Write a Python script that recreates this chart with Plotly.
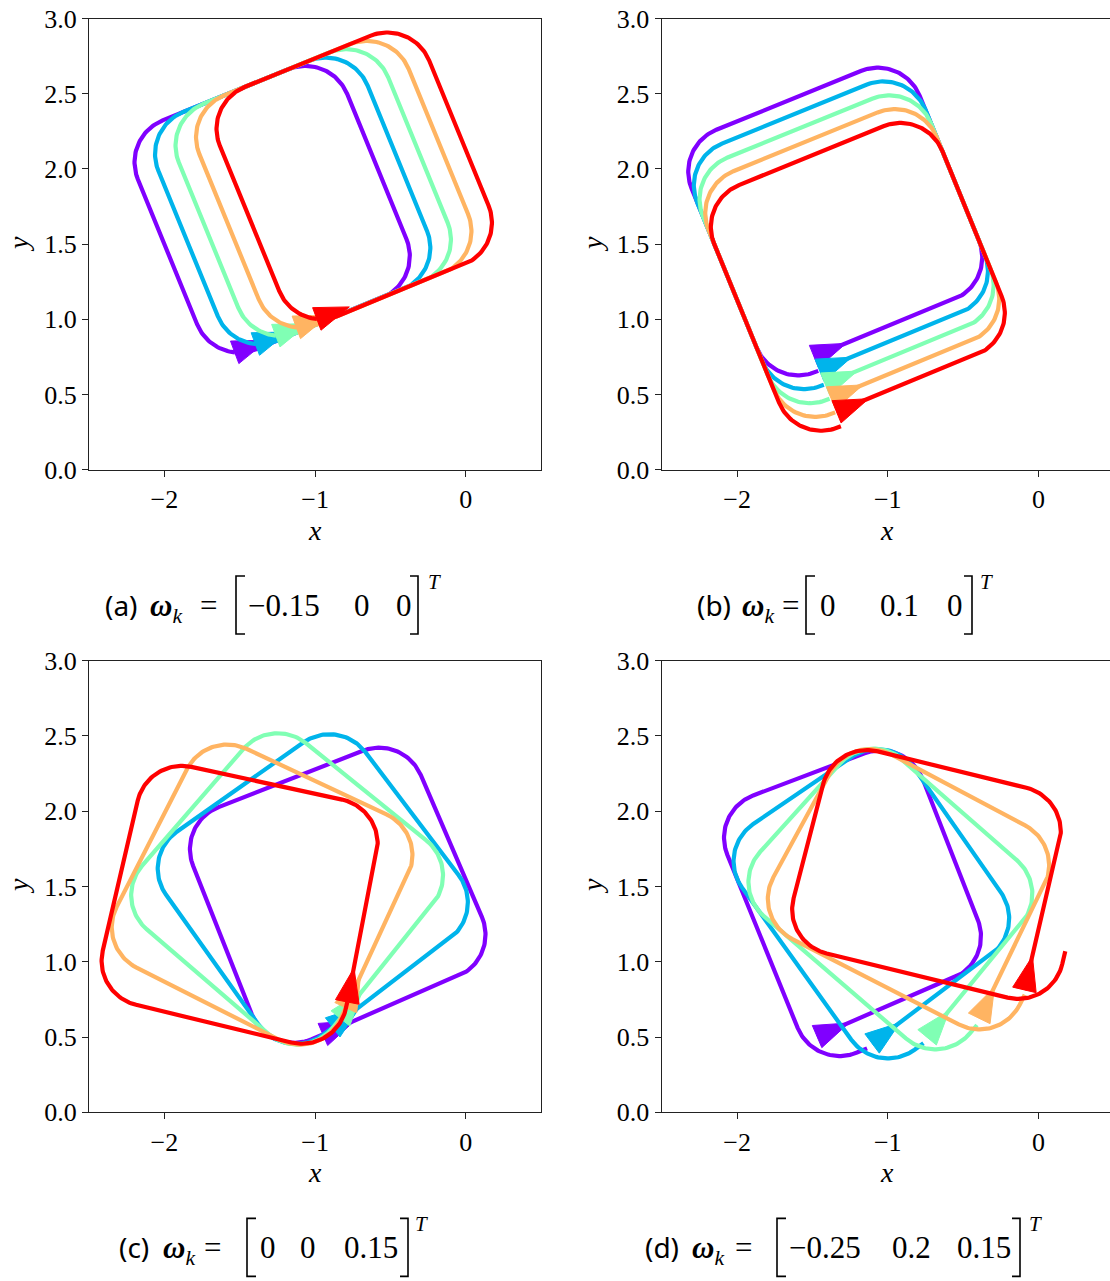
import numpy as np
import plotly.graph_objects as go

# colour per trajectory (rainbow colormap sampled at 0, .25, .5, .75, 1)
COLORS = ["#8000ff", "#00b4eb", "#80ffb4", "#ffb462", "#ff0000"]
CORNER_RADIUS = 0.3

# ---- (a) omega_k = [-0.15, 0, 0]^T : closed loops, corners BL, BR, TR, TL
a_x = [
    [-1.669, -0.280, -0.900, -2.289],
    [-1.532, -0.144, -0.764, -2.153],
    [-1.396, -0.007, -0.628, -2.017],
    [-1.260, 0.129, -0.492, -1.881],
    [-1.124, 0.265, -0.356, -1.745],
]
a_y = [
    [0.688, 1.254, 2.776, 2.209],
    [0.743, 1.310, 2.831, 2.265],
    [0.799, 1.365, 2.887, 2.320],
    [0.854, 1.421, 2.942, 2.376],
    [0.910, 1.477, 2.998, 2.431],
]
a_start_turn = 0.7  # loops start part-way through the first corner

# ---- (b) omega_k = [0, 0.1, 0]^T : start, corners, end
b_x = [
    [-1.490, -0.282, -0.901, -2.415, -1.758, -1.461],
    [-1.453, -0.244, -0.864, -2.378, -1.720, -1.424],
    [-1.415, -0.206, -0.826, -2.340, -1.683, -1.386],
    [-1.377, -0.169, -0.789, -2.302, -1.645, -1.349],
    [-1.340, -0.132, -0.751, -2.265, -1.608, -1.311],
]
b_y = [
    [0.753, 1.246, 2.764, 2.147, 0.536, 0.657],
    [0.661, 1.154, 2.673, 2.055, 0.444, 0.565],
    [0.569, 1.062, 2.580, 1.963, 0.351, 0.472],
    [0.477, 0.970, 2.489, 1.871, 0.260, 0.381],
    [0.385, 0.878, 2.397, 1.779, 0.168, 0.289],
]

# ---- (c) omega_k = [0, 0, 0.15]^T : start, corners, back to start
c_x = [
    [-0.948, 0.225, -0.413, -1.920, -1.306, -0.948],
    [-0.883, 0.134, -0.841, -2.163, -1.194, -0.883],
    [-0.832, -0.029, -1.285, -2.344, -1.077, -0.832],
    [-0.796, -0.255, -1.718, -2.453, -0.961, -0.796],
    [-0.786, -0.533, -2.110, -2.476, -0.854, -0.786],
]
c_y = [
    [0.517, 1.023, 2.507, 1.918, 0.363, 0.517],
    [0.564, 1.336, 2.624, 1.690, 0.328, 0.564],
    [0.624, 1.618, 2.634, 1.411, 0.321, 0.624],
    [0.695, 1.852, 2.538, 1.097, 0.342, 0.695],
    [0.733, 2.015, 2.357, 0.784, 0.390, 0.733],
]

# ---- (d) omega_k = [-0.25, 0.2, 0.15]^T : start, corners, end
d_x = [
    [-1.469, -0.296, -0.876, -2.180, -1.484, -1.137],
    [-1.104, -0.082, -0.994, -2.146, -1.066, -0.763],
    [-0.739, 0.076, -1.118, -2.053, -0.650, -0.408],
    [-0.393, 0.168, -1.240, -1.906, -0.259, -0.091],
    [-0.093, 0.209, -1.354, -1.701, 0.089, 0.178],
]
d_y = [
    [0.503, 1.006, 2.490, 1.996, 0.280, 0.425],
    [0.457, 1.221, 2.528, 1.742, 0.237, 0.459],
    [0.498, 1.481, 2.537, 1.502, 0.293, 0.580],
    [0.624, 1.770, 2.517, 1.291, 0.445, 0.781],
    [0.813, 2.085, 2.468, 1.127, 0.690, 1.070],
]

x_ticks = [-2, -1, 0]
x_tick_text = ["\u22122", "\u22121", "0"]
y_ticks = [0.0, 0.5, 1.0, 1.5, 2.0, 2.5, 3.0]
y_tick_text = ["0.0", "0.5", "1.0", "1.5", "2.0", "2.5", "3.0"]

captions = [
    ("(a)", ["\u22120.15", "0", "0"]),
    ("(b)", ["0", "0.1", "0"]),
    ("(c)", ["0", "0", "0.15"]),
    ("(d)", ["\u22120.25", "0.2", "0.15"]),
]


# ---------------------------------------------------------------- geometry
def corner_arc(p, v, n, r, lim1, lim2, npts=40):
    """Circular fillet replacing the sharp corner v between p->v and v->n."""
    d1 = v - p
    l1 = np.hypot(*d1)
    d1 = d1 / l1
    d2 = n - v
    l2 = np.hypot(*d2)
    d2 = d2 / l2
    cross = d1[0] * d2[1] - d1[1] * d2[0]
    phi = np.arccos(np.clip(d1 @ d2, -1, 1))
    if phi < 1e-6:
        return np.array([v])
    t = min(r * np.tan(phi / 2), lim1 * l1, lim2 * l2)
    rr = t / np.tan(phi / 2)
    s = np.sign(cross)
    t1 = v - t * d1
    c = t1 + rr * s * np.array([-d1[1], d1[0]])
    a0 = np.arctan2(t1[1] - c[1], t1[0] - c[0])
    ang = a0 + s * phi * np.linspace(0, 1, npts)
    return np.column_stack([c[0] + rr * np.cos(ang), c[1] + rr * np.sin(ang)])


def open_path(xs, ys, r):
    P = np.column_stack([xs, ys]).astype(float)
    m = len(P)
    out = [P[:1]]
    for i in range(1, m - 1):
        lim1 = 1.0 if i - 1 == 0 else 0.5
        lim2 = 1.0 if i + 1 == m - 1 else 0.5
        out.append(corner_arc(P[i - 1], P[i], P[i + 1], r, lim1, lim2))
    out.append(P[-1:])
    Q = np.vstack(out)
    return Q[:, 0], Q[:, 1]


def closed_path(xs, ys, r, frac):
    P = np.column_stack([xs, ys]).astype(float)
    m = len(P)
    arcs = [corner_arc(P[i - 1], P[i], P[(i + 1) % m], r, 0.5, 0.5) for i in range(m)]
    k = int(round(frac * (len(arcs[0]) - 1)))
    Q = np.vstack([arcs[0][k:]] + arcs[1:] + [arcs[0][: k + 1]])
    return Q[:, 0], Q[:, 1]


def arrow_head(px, py, length=0.23, half_w=0.08, look=0.15):
    p0 = np.array([px[0], py[0]])
    pts = np.column_stack([px, py])
    dist = np.cumsum(np.r_[0, np.hypot(*np.diff(pts, axis=0).T)])
    j = int(np.searchsorted(dist, look))
    j = min(max(j, 1), len(pts) - 1)
    d = pts[j] - p0
    d = d / np.hypot(*d)
    nrm = np.array([-d[1], d[0]])
    tip = p0 + length * d
    b1 = p0 + half_w * nrm
    b2 = p0 - half_w * nrm
    tri = np.array([b1, tip, b2, b1])
    return tri[:, 0], tri[:, 1]


# ---------------------------------------------------------------- figure
W, H = 1110, 1281
fig = go.Figure()

paths = []
for i in range(5):
    paths.append(("x", "y", *closed_path(a_x[i], a_y[i], CORNER_RADIUS, a_start_turn)))
for i in range(5):
    paths.append(("x2", "y2", *open_path(b_x[i], b_y[i], CORNER_RADIUS)))
for i in range(5):
    paths.append(("x3", "y3", *open_path(c_x[i], c_y[i], CORNER_RADIUS)))
for i in range(5):
    paths.append(("x4", "y4", *open_path(d_x[i], d_y[i], CORNER_RADIUS)))

for n, (xa, ya, px, py) in enumerate(paths):
    col = COLORS[n % 5]
    fig.add_trace(go.Scatter(x=px, y=py, mode="lines", xaxis=xa, yaxis=ya,
                             line=dict(color=col, width=4.2), hoverinfo="skip"))
    tx, ty = arrow_head(px, py)
    fig.add_trace(go.Scatter(x=tx, y=ty, mode="lines", fill="toself", fillcolor=col,
                             xaxis=xa, yaxis=ya, line=dict(color=col, width=1),
                             hoverinfo="skip"))

# axes placement (pixel boxes converted to paper fractions)
left_x = [89 / W, 541.1 / W]
right_x = [661.7 / W, 1.0]
top_y = [1 - 469.7 / H, 1 - 18.5 / H]
bot_y = [1 - 1112.3 / H, 1 - 660.7 / H]
right_xmax = -2.5 + (W - 661.7) / 150.7

tick_font = dict(family="Liberation Serif", size=26, color="black")
axis_common = dict(showgrid=False, zeroline=False, showline=True, linecolor="#222",
                   linewidth=1.3, ticks="outside", ticklen=6, tickwidth=1.3,
                   tickcolor="#222", tickfont=tick_font)

layout = dict(width=W, height=H,
              margin=dict(l=0, r=0, t=0, b=0, autoexpand=False),
              plot_bgcolor="white", paper_bgcolor="white", showlegend=False)
specs = [("", left_x, top_y, 0.5, True), ("2", right_x, top_y, right_xmax, False),
         ("3", left_x, bot_y, 0.5, True), ("4", right_x, bot_y, right_xmax, False)]
for suf, dx, dy, xmax, ymirror in specs:
    layout["xaxis" + suf] = dict(axis_common, domain=dx, range=[-2.5, xmax],
                                 tickvals=x_ticks, ticktext=x_tick_text, mirror=True,
                                 anchor="y" + suf, automargin=False)
    layout["yaxis" + suf] = dict(axis_common, domain=dy, range=[0, 3],
                                 tickvals=y_ticks, ticktext=y_tick_text, mirror=ymirror,
                                 anchor="x" + suf, automargin=False)
fig.update_layout(**layout)


def pp(x, y):
    return x / W, 1 - y / H


def add_text(text, x, y, size, family, angle=0, xanchor="left"):
    fx, fy = pp(x, y)
    fig.add_annotation(text=text, x=fx, y=fy, xref="paper", yref="paper",
                       xanchor=xanchor, yanchor="middle", showarrow=False,
                       textangle=angle, font=dict(size=size, family=family, color="black"))


# axis titles
for cx, cy in [(315, 530), (887.3, 530), (315, 1172), (887.3, 1172)]:
    add_text("<i>x</i>", cx, cy, 28, "Liberation Serif", xanchor="center")
for cx, cy in [(18, 244), (592, 244), (18, 886), (592, 886)]:
    add_text("<i>y</i>", cx, cy, 28, "Liberation Serif", angle=-90, xanchor="center")


def bracket(x_out, x_in, y0, y1):
    a = pp(x_in, y0)
    b = pp(x_out, y0)
    c = pp(x_out, y1)
    d = pp(x_in, y1)
    path = f"M {a[0]},{a[1]} L {b[0]},{b[1]} L {c[0]},{c[1]} L {d[0]},{d[1]}"
    fig.add_shape(type="path", path=path, xref="paper", yref="paper",
                  line=dict(color="black", width=1.6))


# caption layout: label x, omega x, '=' x, bracket [out,in], entry xs, bracket ] [out,in], T x
cap_pos = [
    (103, 148, 198, (236, 245), (246, 352, 394), (418, 410), 426, 0),
    (695, 740, 780, (806, 815), (818, 878, 945), (972, 964), 978, 0),
    (117, 161, 202, (247, 256), (258, 298, 342), (408, 400), 413, 642.4),
    (643, 690, 733, (777, 786), (787, 890, 955), (1020, 1012), 1027, 642.4),
]
for (label, entries), (lx, wx, ex, lb, exs, rb, tx, dy) in zip(captions, cap_pos):
    ym = 605 + dy
    add_text(label, lx, ym, 28, "Noto Sans")
    add_text("<b><i>\u03c9</i></b><sub><i>k</i></sub>", wx, ym + 3, 31, "Liberation Serif")
    add_text("=", ex, ym, 31, "Liberation Serif")
    bracket(lb[0], lb[1], 576 + dy, 634 + dy)
    for txt, xx in zip(entries, exs):
        add_text(txt, xx, ym, 31, "Liberation Serif")
    bracket(rb[0], rb[1], 576 + dy, 634 + dy)
    add_text("<i>T</i>", tx, 582 + dy, 21, "Liberation Serif")

fig.write_html("out.html")
